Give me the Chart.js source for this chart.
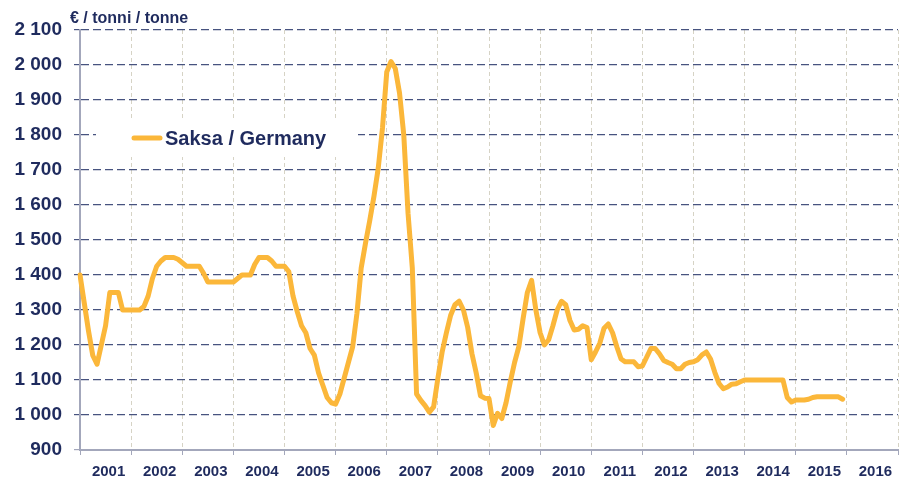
<!DOCTYPE html>
<html>
<head>
<meta charset="utf-8">
<script src="https://cdn.jsdelivr.net/npm/chart.js@4.4.1/dist/chart.umd.min.js"></script>
<style>
    html, body { margin: 0; padding: 0; background: #fff; }
    #wrap { width: 901px; height: 480px; }
</style>
</head>
<body>
<div id="wrap"><canvas id="hinnat" width="901" height="480"></canvas></div>
<script>
let years = ['2001', '2002', '2003', '2004', '2005', '2006', '2007', '2008',
    '2009', '2010', '2011', '2012', '2013', '2014', '2015', '2016']

// kuukausihinnat €/t, tammikuu 2001 - joulukuu 2015
let prices = [
    1400, 1320, 1240, 1170, 1145, 1200, 1255, 1350, 1350, 1350, 1300, 1300, // 2001
    1300, 1300, 1300, 1310, 1340, 1390, 1425, 1440, 1450, 1450, 1450, 1445, // 2002
    1435, 1425, 1425, 1425, 1425, 1405, 1380, 1380, 1380, 1380, 1380, 1380, // 2003
    1380, 1390, 1400, 1400, 1400, 1430, 1450, 1450, 1450, 1440, 1425, 1425, // 2004
    1425, 1410, 1340, 1295, 1255, 1235, 1190, 1171, 1120, 1085, 1050, 1035, // 2005
    1031, 1060, 1105, 1150, 1195, 1290, 1420, 1490, 1555, 1625, 1705, 1820, // 2006
    1980, 2010, 1990, 1920, 1800, 1576, 1420, 1060, 1042, 1027, 1008, 1023, // 2007
    1105, 1180, 1235, 1285, 1315, 1325, 1300, 1250, 1175, 1120, 1055, 1048, // 2008
    1047, 970, 1005, 990, 1035, 1095, 1150, 1195, 1275, 1350, 1385, 1300,   // 2009
    1235, 1200, 1215, 1255, 1300, 1325, 1315, 1270, 1243, 1245, 1255, 1250, // 2010
    1158, 1180, 1205, 1248, 1260, 1235, 1195, 1160, 1152, 1152, 1152, 1138, // 2011
    1140, 1165, 1190, 1190, 1175, 1156, 1150, 1145, 1132, 1132, 1145, 1150, // 2012
    1152, 1158, 1172, 1180, 1160, 1122, 1090, 1075, 1080, 1088, 1089, 1095, // 2013
    1100, 1100, 1100, 1100, 1100, 1100, 1100, 1100, 1100, 1100, 1050, 1037, // 2014
    1043, 1043, 1043, 1045, 1050, 1052, 1052, 1052, 1052, 1052, 1052, 1045  // 2015
]

let seriesName = 'Saksa / Germany'
let unitText = '€ / tonni / tonne'

const navy = '#1f2b5e'
const fontFamily = "'Liberation Sans', Arial, sans-serif"

// yksi kategoria per kuukausi, vuoden raja joka 12. kohdalla
let months = []
for (let i = 0; i <= years.length * 12; i++) {
    months.push(i)
}

function formatThousands(v) {
    if (v < 1000) return String(v)
    return Math.floor(v / 1000) + ' ' + String(v % 1000).padStart(3, '0')
}

const legendBox = {
    id: 'legendBox',
    beforeDatasetsDraw(chart) {
        const ctx = chart.ctx
        const ds = chart.data.datasets[0]
        ctx.save()
        ctx.fillStyle = '#ffffff'
        ctx.fillRect(96, 119, 262, 38)
        ctx.strokeStyle = ds.borderColor
        ctx.lineWidth = 5
        ctx.lineCap = 'round'
        ctx.beginPath()
        ctx.moveTo(134, 138)
        ctx.lineTo(160, 138)
        ctx.stroke()
        ctx.fillStyle = navy
        ctx.font = 'bold 20px ' + fontFamily
        ctx.textBaseline = 'middle'
        ctx.fillText(ds.label, 165, 139)
        ctx.restore()
    },
    afterDraw(chart) {
        const ctx = chart.ctx
        ctx.save()
        ctx.fillStyle = navy
        ctx.font = 'bold 16px ' + fontFamily
        ctx.textBaseline = 'alphabetic'
        ctx.fillText(unitText, 70, 23)
        ctx.restore()
    }
}

const canvas = document.getElementById('hinnat')

var grafico = new Chart(canvas, {
    type: 'line',
    data: {
        labels: months,
        datasets: [{
            label: seriesName,
            data: prices,
            borderColor: '#fbb73a',
            borderWidth: 5,
            borderJoinStyle: 'round',
            borderCapStyle: 'round',
            pointRadius: 0,
            tension: 0,
            fill: false
        }]
    },
    options: {
        responsive: false,
        animation: false,
        devicePixelRatio: 1,
        layout: { padding: { top: 30, right: 3, left: 0, bottom: 0 } },
        plugins: {
            legend: { display: false },
            tooltip: { enabled: false }
        },
        scales: {
            x: {
                type: 'category',
                offset: false,
                grid: {
                    color: c => (c.index % 12 === 0 && c.index > 0) ? '#d6d3c5' : 'rgba(0,0,0,0)',
                    tickColor: c => c.index % 12 === 0 ? '#a3a7bb' : 'rgba(0,0,0,0)',
                    tickLength: 5,
                    lineWidth: 1
                },
                border: { color: '#a3a7bb', width: 2, dash: [4, 3] },
                ticks: {
                    autoSkip: false,
                    maxRotation: 0,
                    minRotation: 0,
                    padding: 8,
                    labelOffset: 3,
                    color: navy,
                    font: { family: fontFamily, size: 15, weight: 'bold' },
                    callback: (val, idx) => idx % 12 === 6 ? years[Math.floor(idx / 12)] : ''
                },
                afterFit: s => {
                    s.height = 30
                    s.paddingLeft = 0
                    s.paddingRight = 0
                }
            },
            y: {
                min: 900,
                max: 2100,
                grid: {
                    color: c => c.tick.value === 900 ? 'rgba(0,0,0,0)' : '#47537f',
                    tickColor: c => c.tick.value === 900 ? '#a3a7bb' : '#47537f',
                    tickLength: 6,
                    lineWidth: 1.2
                },
                border: { color: '#a3a7bb', width: 2, dash: [8, 4] },
                ticks: {
                    stepSize: 100,
                    padding: 12,
                    color: navy,
                    font: { family: fontFamily, size: 19, weight: 'bold' },
                    callback: v => formatThousands(v)
                },
                afterFit: s => { s.width = 80 }
            }
        }
    },
    plugins: [legendBox]
})
</script>
</body>
</html>
